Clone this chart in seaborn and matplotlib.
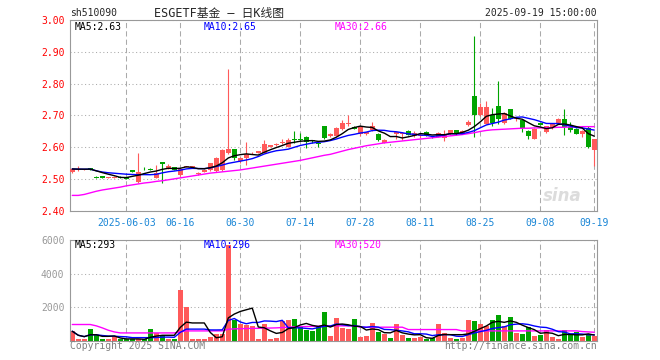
import numpy as np
import pandas as pd
import seaborn as sns
import matplotlib.pyplot as plt

# --- data: 88 sessions, 2025-05-20 .. 2025-09-19 ---
opens = [2.522, 2.528, 2.529, 2.534, 2.507, 2.509, 2.505, 2.505, 2.508, 2.506,
         2.529, 2.491, 2.535, 2.533, 2.505, 2.553, 2.533, 2.537, 2.512, 2.539,
         2.538, 2.515, 2.524, 2.528, 2.526, 2.528, 2.583, 2.594, 2.557, 2.568,
         2.581, 2.583, 2.583, 2.602, 2.606, 2.614, 2.602, 2.627, 2.626, 2.634,
         2.621, 2.614, 2.667, 2.635, 2.637, 2.658, 2.674, 2.664, 2.643, 2.641,
         2.656, 2.643, 2.615, 2.610, 2.642, 2.642, 2.652, 2.637, 2.635, 2.647,
         2.634, 2.633, 2.630, 2.641, 2.653, 2.644, 2.669, 2.762, 2.700, 2.674,
         2.700, 2.731, 2.675, 2.719, 2.688, 2.687, 2.651, 2.627, 2.677, 2.648,
         2.661, 2.675, 2.690, 2.665, 2.658, 2.643, 2.661, 2.592]
highs = [2.535, 2.540, 2.532, 2.536, 2.509, 2.510, 2.507, 2.509, 2.509, 2.507,
         2.530, 2.582, 2.538, 2.535, 2.545, 2.555, 2.548, 2.539, 2.535, 2.542,
         2.541, 2.521, 2.531, 2.552, 2.570, 2.596, 2.847, 2.596, 2.569, 2.616,
         2.584, 2.589, 2.624, 2.607, 2.613, 2.625, 2.628, 2.650, 2.644, 2.636,
         2.623, 2.616, 2.668, 2.645, 2.664, 2.687, 2.700, 2.666, 2.665, 2.649,
         2.680, 2.645, 2.625, 2.611, 2.649, 2.647, 2.654, 2.650, 2.641, 2.651,
         2.636, 2.648, 2.654, 2.656, 2.655, 2.653, 2.685, 2.951, 2.740, 2.746,
         2.722, 2.807, 2.710, 2.721, 2.695, 2.689, 2.653, 2.660, 2.679, 2.668,
         2.676, 2.692, 2.719, 2.679, 2.660, 2.654, 2.667, 2.626]
lows = [2.518, 2.526, 2.528, 2.530, 2.504, 2.503, 2.504, 2.504, 2.504, 2.501,
        2.522, 2.489, 2.530, 2.528, 2.503, 2.488, 2.532, 2.529, 2.510, 2.538,
        2.537, 2.512, 2.522, 2.527, 2.521, 2.526, 2.580, 2.560, 2.552, 2.544,
        2.579, 2.582, 2.582, 2.600, 2.604, 2.610, 2.600, 2.615, 2.620, 2.598,
        2.614, 2.600, 2.625, 2.632, 2.635, 2.656, 2.667, 2.657, 2.636, 2.639,
        2.651, 2.621, 2.613, 2.608, 2.627, 2.622, 2.638, 2.633, 2.630, 2.636,
        2.628, 2.632, 2.620, 2.640, 2.640, 2.643, 2.666, 2.632, 2.698, 2.672,
        2.667, 2.672, 2.673, 2.688, 2.684, 2.648, 2.625, 2.625, 2.669, 2.645,
        2.659, 2.674, 2.638, 2.649, 2.641, 2.634, 2.598, 2.542]
closes = [2.532, 2.531, 2.531, 2.532, 2.505, 2.504, 2.506, 2.508, 2.505, 2.502,
          2.523, 2.524, 2.534, 2.529, 2.518, 2.549, 2.541, 2.530, 2.533, 2.541,
          2.540, 2.520, 2.530, 2.550, 2.566, 2.592, 2.595, 2.565, 2.567, 2.578,
          2.582, 2.587, 2.609, 2.606, 2.612, 2.615, 2.622, 2.624, 2.623, 2.618,
          2.619, 2.610, 2.628, 2.641, 2.661, 2.675, 2.676, 2.658, 2.663, 2.647,
          2.668, 2.622, 2.623, 2.609, 2.648, 2.645, 2.640, 2.645, 2.638, 2.640,
          2.631, 2.646, 2.643, 2.654, 2.641, 2.651, 2.680, 2.700, 2.728, 2.728,
          2.677, 2.690, 2.708, 2.690, 2.692, 2.661, 2.637, 2.658, 2.671, 2.667,
          2.674, 2.690, 2.665, 2.654, 2.643, 2.651, 2.602, 2.625]
volumes = [580, 100, 100, 700, 380, 100, 100, 220, 100, 100,
           100, 100, 100, 700, 460, 340, 100, 100, 3040, 2020,
           100, 100, 100, 220, 440, 400, 5700, 1240, 1000, 940,
           880, 100, 1000, 100, 180, 1160, 1240, 1300, 880, 640,
           580, 920, 1720, 280, 1360, 760, 700, 1300, 220, 280,
           1060, 520, 400, 160, 1000, 340, 160, 160, 220, 100,
           160, 1000, 460, 160, 100, 160, 1240, 1180, 1000, 880,
           1240, 1540, 880, 1420, 460, 400, 820, 280, 340, 640,
           220, 100, 640, 340, 520, 220, 400, 280]

ma30_price = [2.449, 2.449, 2.452, 2.457, 2.462, 2.466, 2.469, 2.472, 2.475, 2.479,
              2.482, 2.485, 2.488, 2.490, 2.493, 2.495, 2.498, 2.501, 2.504, 2.507,
              2.510, 2.513, 2.516, 2.519, 2.521, 2.523, 2.525, 2.527, 2.529, 2.532,
              2.535, 2.538, 2.541, 2.544, 2.547, 2.550, 2.553, 2.556, 2.559, 2.563,
              2.567, 2.571, 2.575, 2.578, 2.583, 2.588, 2.593, 2.597, 2.601, 2.605,
              2.608, 2.611, 2.614, 2.616, 2.618, 2.620, 2.622, 2.624, 2.626, 2.628,
              2.630, 2.632, 2.634, 2.636, 2.638, 2.640, 2.643, 2.646, 2.650, 2.653,
              2.655, 2.656, 2.657, 2.658, 2.659, 2.660, 2.660, 2.661, 2.661, 2.662,
              2.662, 2.663, 2.663, 2.664, 2.664, 2.665, 2.665, 2.665]
ma30_vol = [980, 980, 980, 980, 900, 780, 640, 540, 480, 480,
            480, 480, 480, 480, 480, 480, 480, 480, 540, 600,
            600, 600, 600, 600, 600, 600, 700, 720, 730, 740,
            750, 750, 770, 770, 780, 800, 820, 840, 850, 860,
            870, 880, 900, 900, 900, 900, 900, 900, 820, 820,
            820, 820, 820, 820, 820, 820, 680, 680, 680, 680,
            680, 680, 680, 680, 680, 600, 600, 600, 600, 600,
            600, 600, 600, 600, 600, 600, 600, 600, 600, 600,
            600, 600, 600, 600, 600, 560, 540, 520]

tick_pos = [9, 18, 28, 38, 48, 58, 68, 78, 87]
tick_labels = ['2025-06-03', '06-16', '06-30', '07-14', '07-28',
               '08-11', '08-25', '09-08', '09-19']

RED = '#ff5a5a'
GREEN = '#00a400'
GRID = '#aaaaaa'

df = pd.DataFrame({'open': opens, 'high': highs, 'low': lows,
                   'close': closes, 'volume': volumes,
                   'ma30': ma30_price, 'vma30': ma30_vol})
df['x'] = np.arange(len(df))
df['ma5'] = df['close'].rolling(5, min_periods=1).mean()
df['ma10'] = df['close'].rolling(10, min_periods=1).mean()
df['vma5'] = df['volume'].rolling(5, min_periods=1).mean()
df['vma10'] = df['volume'].rolling(10, min_periods=1).mean()
colors = np.where(df['close'] >= df['open'], RED, GREEN)

# --- figure ---
sns.set_theme(style='white')
plt.rcParams['font.family'] = ['DejaVu Sans Mono', 'Noto Sans CJK SC']

W, H = 660, 360
fig = plt.figure(figsize=(6.6, 3.6), dpi=100)
ax = fig.add_axes([70 / W, 1 - 211 / H, 527 / W, 191 / H])
axv = fig.add_axes([70 / W, 1 - 341 / H, 527 / W, 101 / H])
xlim = (-0.38, 87.45)

# candles
body_h = (df['close'] - df['open']).abs().clip(lower=0.0025)
body_b = df[['open', 'close']].min(axis=1)
ax.vlines(df['x'], df['low'], df['high'], colors=colors, lw=0.8, zorder=2)
ax.bar(df['x'], body_h, bottom=body_b, width=0.75, color=colors, lw=0, zorder=3)

for col, c in [('ma30', '#ff00ff'), ('ma10', '#0000ff'), ('ma5', 'black')]:
    sns.lineplot(data=df, x='x', y=col, ax=ax, color=c, lw=1, zorder=4)

ax.set_xlim(*xlim)
ax.set_ylim(2.40, 3.00)
yt = np.round(np.arange(2.4, 3.001, 0.1), 2)
ax.set_yticks(yt)
ax.set_yticklabels([f'{v:.2f}' for v in yt])
ax.set_xticks(tick_pos)
ax.set_xticklabels(tick_labels)
ax.tick_params(axis='y', length=0, pad=4, labelsize=7, labelcolor='#ff0000')
ax.tick_params(axis='x', length=0, pad=5, labelsize=7, labelcolor='#1a86d6')

ax.text(0.0095, 0.965, 'MA5:2.63', transform=ax.transAxes, va='center', size=7, color='black')
ax.text(0.254, 0.965, 'MA10:2.65', transform=ax.transAxes, va='center', size=7, color='#0000ff')
ax.text(0.503, 0.965, 'MA30:2.66', transform=ax.transAxes, va='center', size=7, color='#ff00ff')
ax.text(0.97, 0.08, 'sina', transform=ax.transAxes, ha='right', va='center',
        size=12, color='#dcdcdc', style='italic', weight='bold', family='DejaVu Sans', zorder=1)

# volume
axv.bar(df['x'], df['volume'], width=0.78, color=colors, lw=0, zorder=2)
for col, c in [('vma30', '#ff00ff'), ('vma10', '#0000ff'), ('vma5', 'black')]:
    sns.lineplot(data=df, x='x', y=col, ax=axv, color=c, lw=1, zorder=4)

axv.set_xlim(*xlim)
axv.set_ylim(0, 6000)
axv.set_yticks([2000, 4000, 6000])
axv.set_yticklabels(['2000', '4000', '6000'])
axv.set_xticks(tick_pos)
axv.set_xticklabels([])
axv.tick_params(axis='y', length=0, pad=4, labelsize=7, labelcolor='#999999')
axv.tick_params(axis='x', length=0)

axv.text(0.0095, 0.95, 'MA5:293', transform=axv.transAxes, va='center', size=7, color='black')
axv.text(0.254, 0.95, 'MA10:296', transform=axv.transAxes, va='center', size=7, color='#0000ff')
axv.text(0.503, 0.95, 'MA30:520', transform=axv.transAxes, va='center', size=7, color='#ff00ff')

for a in (ax, axv):
    a.set_xlabel('')
    a.set_ylabel('')
    a.grid(axis='y', color=GRID, lw=0.75, ls=(0, (1, 2.5)))
    a.grid(axis='x', color=GRID, lw=0.75, ls=(0, (5, 3)))
    a.set_axisbelow(True)
    for s in a.spines.values():
        s.set_color('#999999')
        s.set_linewidth(0.8)

# header / footer
fig.text(70 / W, 1 - 13.5 / H, 'sh510090', ha='left', va='center', size=7)
fig.text(219 / W, 1 - 13.5 / H, 'ESGETF基金 — 日K线图', ha='center', va='center', size=8.5)
fig.text(597 / W, 1 - 13.5 / H, '2025-09-19 15:00:00', ha='right', va='center', size=7)
fig.text(70 / W, 1 - 346 / H, 'Copyright 2025 SINA.COM', ha='left', va='center', size=7, color='#808080')
fig.text(597 / W, 1 - 346 / H, 'http://finance.sina.com.cn', ha='right', va='center', size=7, color='#808080')

fig.savefig('out.png', dpi=100)
